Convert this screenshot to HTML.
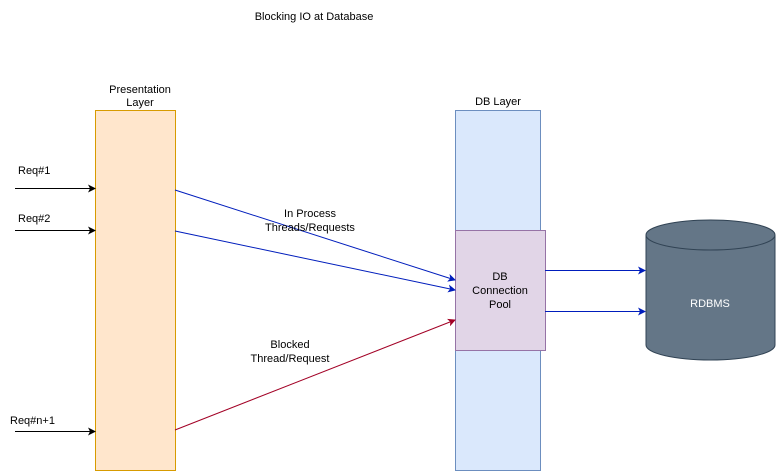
<!DOCTYPE html>
<html><head><style>body{margin:0;background:#fff}</style></head><body>
<svg width="776" height="471" xmlns="http://www.w3.org/2000/svg" font-family="Liberation Sans, Arial, sans-serif" font-size="11">
<defs>
<marker id="k" markerWidth="8" markerHeight="8" refX="7" refY="4" orient="auto" markerUnits="userSpaceOnUse"><path d="M0,0 L8,4 L0,8 L2,4 z" fill="#000"/></marker>
<marker id="b" markerWidth="8" markerHeight="8" refX="7" refY="4" orient="auto" markerUnits="userSpaceOnUse"><path d="M0,0 L8,4 L0,8 L2,4 z" fill="#001dbc"/></marker>
<marker id="r" markerWidth="8" markerHeight="8" refX="7" refY="4" orient="auto" markerUnits="userSpaceOnUse"><path d="M0,0 L8,4 L0,8 L2,4 z" fill="#a20025"/></marker>
</defs>
<text x="314" y="20" text-anchor="middle">Blocking IO at Database</text>
<text x="140" y="93" text-anchor="middle">Presentation</text>
<text x="140" y="106" text-anchor="middle">Layer</text>
<rect x="95.5" y="110.5" width="80" height="360" fill="#ffe6cc" stroke="#d79b00"/>
<text x="498" y="105" text-anchor="middle">DB Layer</text>
<rect x="455.5" y="110.5" width="85" height="360" fill="#dae8fc" stroke="#6c8ebf"/>
<rect x="455.5" y="230.5" width="90" height="120" fill="#e1d5e7" stroke="#9673a6"/>
<text x="500" y="280" text-anchor="middle">DB</text>
<text x="500" y="294" text-anchor="middle">Connection</text>
<text x="500" y="308" text-anchor="middle">Pool</text>
<path d="M646,235 A64.5,15 0 0 1 775,235 L775,345 A64.5,15 0 0 1 646,345 Z" fill="#647687" stroke="#314354"/>
<path d="M646,235 A64.5,15 0 0 0 775,235" fill="none" stroke="#314354"/>
<text x="710" y="307" text-anchor="middle" fill="#fff">RDBMS</text>
<text x="18" y="174">Req#1</text>
<text x="18" y="222">Req#2</text>
<text x="10" y="424">Req#n+1</text>
<line x1="15" y1="188.5" x2="95" y2="188.5" stroke="#000" marker-end="url(#k)"/>
<line x1="15" y1="230.5" x2="95" y2="230.5" stroke="#000" marker-end="url(#k)"/>
<line x1="15" y1="431.5" x2="95" y2="431.5" stroke="#000" marker-end="url(#k)"/>
<line x1="175" y1="190" x2="455" y2="280" stroke="#001dbc" marker-end="url(#b)"/>
<line x1="175" y1="231" x2="455" y2="290" stroke="#001dbc" marker-end="url(#b)"/>
<line x1="175" y1="430" x2="455" y2="320" stroke="#a20025" marker-end="url(#r)"/>
<line x1="545" y1="270.5" x2="645" y2="270.5" stroke="#001dbc" marker-end="url(#b)"/>
<line x1="545" y1="311.5" x2="645" y2="311.5" stroke="#001dbc" marker-end="url(#b)"/>
<text x="310" y="217" text-anchor="middle">In Process</text>
<text x="310" y="231" text-anchor="middle">Threads/Requests</text>
<text x="290" y="348" text-anchor="middle">Blocked</text>
<text x="290" y="362" text-anchor="middle">Thread/Request</text>
</svg>
</body></html>
